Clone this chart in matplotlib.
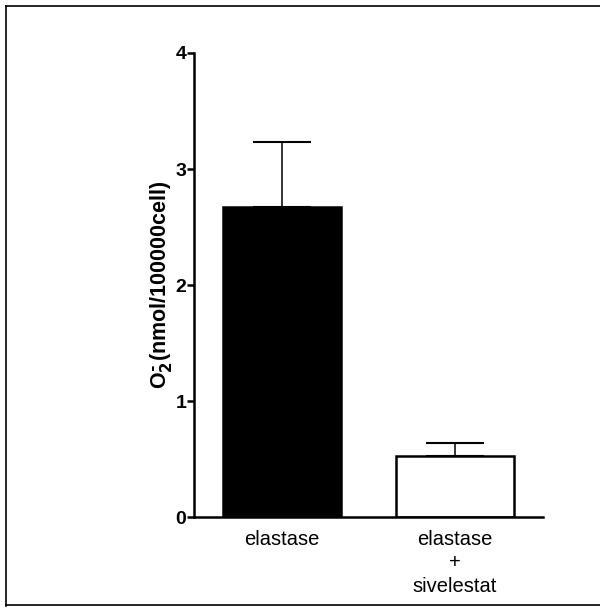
import matplotlib
matplotlib.use("Agg")
import matplotlib.pyplot as plt
from matplotlib.lines import Line2D

# Superoxide release with and without sivelestat
groups = ["elastase", "elastase\n+\nsivelestat"]
means = [2.67, 0.53]
sem = [0.56, 0.11]
fills = ["black", "white"]
yticks = [0, 1, 2, 3, 4]

plt.rcParams["font.family"] = ["Liberation Sans", "DejaVu Sans"]

fig = plt.figure(figsize=(6.0, 6.12), dpi=100)
ax = fig.add_axes([0.3233, 0.1552, 0.5817, 0.7582])

x = list(range(len(groups)))
ax.bar(x, means, width=0.68, color=fills, edgecolor="black", linewidth=1.8, zorder=2)
ax.errorbar(x, means, yerr=[[0] * len(sem), sem], fmt="none", ecolor="black",
            elinewidth=1.1, capsize=21, capthick=1.5, zorder=1)

ax.set_xlim(-0.51, 1.51)
ax.set_ylim(0, 4)
ax.set_yticks(yticks)
ax.set_yticklabels([str(t) for t in yticks], fontsize=14, fontweight="bold")
ax.set_xticks(x)
ax.set_xticklabels(groups, fontsize=14.5, linespacing=1.3)
ax.tick_params(axis="x", length=0, pad=9)
ax.tick_params(axis="y", direction="out", length=5, width=1.8, pad=0.5)

for side in ("top", "right"):
    ax.spines[side].set_visible(False)
for side in ("left", "bottom"):
    ax.spines[side].set_linewidth(1.8)

ax.set_ylabel(r"O$_\mathbf{2}^{\mathbf{\bar{\ }}}$(nmol/100000cell)", fontsize=15.5,
              fontweight="bold", labelpad=1)

# Frame around the panel
W, H = 600, 612
for xs, ys in [((6, 6), (6, 606)), ((6, 600), (6, 6)), ((6, 600), (605, 605))]:
    fig.add_artist(Line2D([v / W for v in xs], [1 - v / H for v in ys],
                          transform=fig.transFigure, color="black", linewidth=1.2))

fig.savefig("out.png", dpi=100)
